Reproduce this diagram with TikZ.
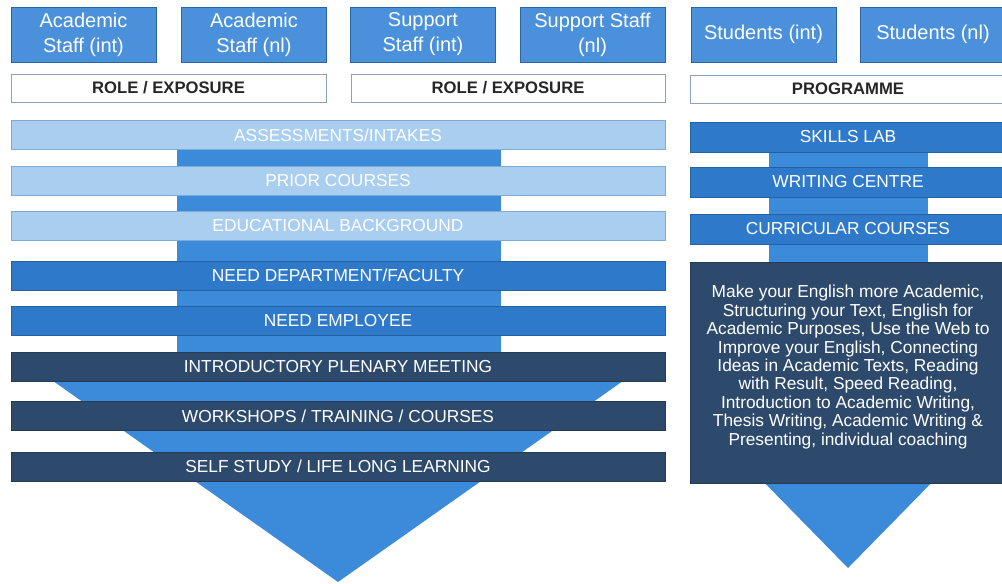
\documentclass[tikz,border=0pt]{standalone}
\usepackage{fontspec}
\setmainfont{Liberation Sans}

\definecolor{boxblue}{HTML}{4A90DA}
\definecolor{boxedge}{HTML}{2C65A6}
\definecolor{roleedge}{HTML}{8DA3BC}
\definecolor{paleblue}{HTML}{A9CEF0}
\definecolor{paleedge}{HTML}{7EAAD6}
\definecolor{arrowblue}{HTML}{3C8BDB}
\definecolor{needblue}{HTML}{2F79CB}
\definecolor{navy}{HTML}{2D4A6C}

\tikzset{
	group/.style={draw=boxedge, fill=boxblue, text=white, align=center, inner sep=0pt,
		minimum width=108.75pt, minimum height=41.25pt, font=\fontsize{15}{18.75}\selectfont},
	rolebox/.style={draw=roleedge, fill=white, text=black!85, inner sep=0pt,
		minimum height=21pt, font=\fontsize{12.5}{14}\selectfont\bfseries},
	bar/.style={inner sep=0pt, minimum width=490.5pt, minimum height=21.75pt,
		text=white, font=\fontsize{13}{14}\selectfont},
	palebar/.style={bar, draw=paleedge, fill=paleblue},
	needbar/.style={bar, draw=needblue!80!black, fill=needblue},
	darkbar/.style={bar, draw=navy!80!black, fill=navy},
	offer/.style={inner sep=0pt, minimum width=237pt, minimum height=22.5pt,
		draw=needblue!80!black, fill=needblue, text=white, font=\fontsize{13}{14}\selectfont}
}

\begin{document}
\begin{tikzpicture}[x=0.75pt, y=-0.75pt]
	
	\useasboundingbox (0,0) rectangle (1002,583);
	\clip (0,0) rectangle (1002,583);
	
	\fill[arrowblue] (177,128) rectangle (501,360);
	\fill[arrowblue] (12,352) -- (664,352) -- (338,582) -- cycle;
	\fill[arrowblue] (769,140) rectangle (928,300);
	\fill[arrowblue] (752,470) -- (944,470) -- (848,568) -- cycle;
	
	\node[group] (acint) at (83.5,34.5) {Academic\\Staff (int)};
	\node[group] (acnl) at (254,34.5) {Academic\\Staff (nl)};
	\node[group] (suint) at (423,34.5) {Support\\Staff (int)};
	\node[group] (sunl) at (592.5,34.5) {Support Staff\\(nl)};
	\node[group] (stint) at (763.5,34.5) {Students (int)};
	\node[group] (stnl) at (933,34.5) {Students (nl)};
	
	\node[rolebox, minimum width=236.25pt] (role1) at (168.5,88) {ROLE / EXPOSURE};
	\node[rolebox, minimum width=235.5pt] (role2) at (508,88) {ROLE / EXPOSURE};
	\node[rolebox, minimum width=237pt] (prog) at (848,89) {PROGRAMME};
	
	\node[palebar] (assess) at (338,135) {ASSESSMENTS/INTAKES};
	\node[palebar] (prior) at (338,181) {PRIOR COURSES};
	\node[palebar] (edu) at (338,226) {EDUCATIONAL BACKGROUND};
	\node[needbar] (needdep) at (338,275.5) {NEED DEPARTMENT/FACULTY};
	\node[needbar] (needemp) at (338,321) {NEED EMPLOYEE};
	\node[darkbar] (intro) at (338,366.5) {INTRODUCTORY PLENARY MEETING};
	\node[darkbar] (work) at (338,416) {WORKSHOPS / TRAINING / COURSES};
	\node[darkbar] (self) at (338,466.5) {SELF STUDY / LIFE LONG LEARNING};
	
	\node[offer] (skills) at (848,137) {SKILLS LAB};
	\node[offer] (writing) at (848,182) {WRITING CENTRE};
	\node[offer] (curric) at (848,229) {CURRICULAR COURSES};
	
	\node[draw=navy!80!black, fill=navy, inner sep=0pt, minimum width=237pt, minimum height=165.75pt] (topics) at (848,372.5) {};
	\node[text=white, align=center, font=\fontsize{13}{13.8}\selectfont] (topictext) at (848,367) {Make your English more Academic,\\Structuring your Text, English for\\Academic Purposes, Use the Web to\\Improve your English, Connecting\\Ideas in Academic Texts, Reading\\with Result, Speed Reading,\\Introduction to Academic Writing,\\Thesis Writing, Academic Writing \&\\Presenting, individual coaching};
	
\end{tikzpicture}
\end{document}
